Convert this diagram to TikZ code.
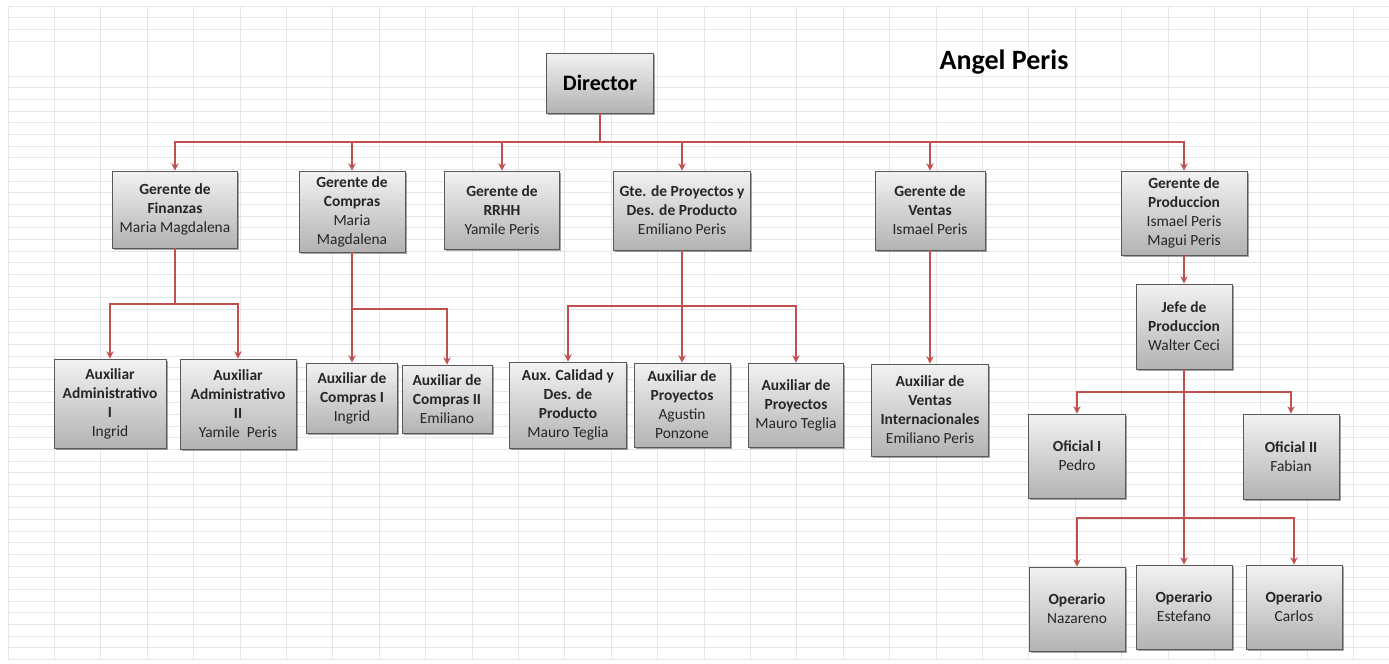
\documentclass[tikz,border=0pt]{standalone}
\usepackage{fontspec}
\setmainfont{Carlito}
\usetikzlibrary{arrows.meta,shadows}
\definecolor{linkred}{HTML}{C0504D}
\definecolor{gridgray}{HTML}{E6E6E6}

\begin{document}
\begin{tikzpicture}
  [x=0.75pt,y=-0.75pt,
   orgbox/.style={draw=black!65,line width=0.6pt,top color=black!5,bottom color=black!30,
     drop shadow={shadow xshift=1.2pt,shadow yshift=-1.2pt,opacity=.35,fill=black},
     align=center,inner sep=1pt,text=black!85,font=\fontsize{11.6}{14.3}\selectfont},
   dims/.style args={#1x#2}{minimum width=#1*0.75pt,minimum height=#2*0.75pt},
   link/.style={draw=linkred,line width=1.5pt,-{Stealth[length=5.5pt,width=5.5pt]}}]
  \useasboundingbox[fill=white] (0,0) rectangle (1389,664);

  % hoja de calculo
  \foreach \k in {0,...,29}
    \draw[gridgray,line width=0.75pt] (8+46.4*\k,6) -- (8+46.4*\k,660);
  \foreach \k in {0,1,2,3,6,7,...,56}
    \draw[gridgray,line width=0.75pt] (8,6+11.67*\k) -- (1389,6+11.67*\k);

  \node (titulo) at (1004,62) {\fontsize{21}{25}\selectfont\bfseries Angel Peris};
  \node[orgbox,dims=107x60,font=\fontsize{16.5}{19}\selectfont\bfseries,text=black] (dir) at (600,83) {Director};

  % gerentes
  \node[orgbox,dims=125x77] (fin) at (175,209.5) {\textbf{Gerente de}\\\textbf{Finanzas}\\Maria Magdalena};
  \node[orgbox,dims=106x81] (com) at (352,211.5) {\textbf{Gerente de}\\\textbf{Compras}\\Maria\\Magdalena};
  \node[orgbox,dims=115x78] (rrhh) at (502,210) {\textbf{Gerente de}\\\textbf{RRHH}\\Yamile Peris};
  \node[orgbox,dims=137x79] (proy) at (682,210.5) {\textbf{Gte. de Proyectos y}\\\textbf{Des. de Producto}\\Emiliano Peris};
  \node[orgbox,dims=110x79] (ven) at (930,210.5) {\textbf{Gerente de}\\\textbf{Ventas}\\Ismael Peris};
  \node[orgbox,dims=126x84] (prod) at (1184,213) {\textbf{Gerente de}\\\textbf{Produccion}\\Ismael Peris\\Magui Peris};

  % auxiliares
  \node[orgbox,dims=112x89] (adm1) at (110,403.5) {\textbf{Auxiliar}\\\textbf{Administrativo}\\\textbf{I}\\Ingrid};
  \node[orgbox,dims=116x90] (adm2) at (238,404) {\textbf{Auxiliar}\\\textbf{Administrativo}\\\textbf{II}\\Yamile\ \ Peris};
  \node[orgbox,dims=91x70] (cmp1) at (352,398) {\textbf{Auxiliar de}\\\textbf{Compras I}\\Ingrid};
  \node[orgbox,dims=90x68] (cmp2) at (447,399) {\textbf{Auxiliar de}\\\textbf{Compras II}\\Emiliano};
  \node[orgbox,dims=117x86] (cal) at (568,405) {\textbf{Aux. Calidad y}\\\textbf{Des. de}\\\textbf{Producto}\\Mauro Teglia};
  \node[orgbox,dims=96x84] (pry1) at (682,405) {\textbf{Auxiliar de}\\\textbf{Proyectos}\\Agustin\\Ponzone};
  \node[orgbox,dims=95x84] (pry2) at (796,405) {\textbf{Auxiliar de}\\\textbf{Proyectos}\\Mauro Teglia};
  \node[orgbox,dims=117x92] (vint) at (930,410) {\textbf{Auxiliar de}\\\textbf{Ventas}\\\textbf{Internacionales}\\Emiliano Peris};

  % produccion
  \node[orgbox,dims=96x85] (jefe) at (1184,326.5) {\textbf{Jefe de}\\\textbf{Produccion}\\Walter Ceci};
  \node[orgbox,dims=97x84] (of1) at (1077,456) {\textbf{Oficial I}\\Pedro};
  \node[orgbox,dims=96x85] (of2) at (1291,456.5) {\textbf{Oficial II}\\Fabian};
  \node[orgbox,dims=96x84] (op1) at (1077,609) {\textbf{Operario}\\Nazareno};
  \node[orgbox,dims=96x84] (op2) at (1184,607) {\textbf{Operario}\\Estefano};
  \node[orgbox,dims=96x84] (op3) at (1294,607) {\textbf{Operario}\\Carlos};

  \foreach \g in {fin,com,rrhh,proy,ven,prod}
    \draw[link] (dir.south) -- ++(0,29) -| (\g.north);
  \foreach \a in {adm1,adm2}
    \draw[link] (fin.south) -- ++(0,56) -| (\a.north);
  \draw[link] (com.south) -- (cmp1.north);
  \draw[link] (com.south) -- ++(0,57) -| (cmp2.north);
  \foreach \a in {cal,pry1,pry2}
    \draw[link] (proy.south) -- ++(0,56) -| (\a.north);
  \draw[link] (ven.south) -- (vint.north);
  \draw[link] (prod.south) -- (jefe.north);
  \foreach \a in {of1,of2}
    \draw[link] (jefe.south) -- ++(0,23) -| (\a.north);
  \foreach \a in {op1,op2,op3}
    \draw[link] (jefe.south) -- ++(0,149) -| (\a.north);
\end{tikzpicture}
\end{document}
